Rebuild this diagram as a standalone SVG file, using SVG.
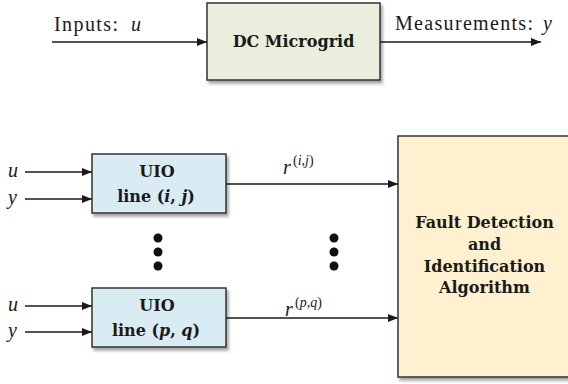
<svg xmlns="http://www.w3.org/2000/svg" width="568" height="384" viewBox="0 0 568 384">
<defs>
<style>
.box{stroke:#333;stroke-width:1.5}
.lbl{font-family:"DejaVu Serif",serif;font-weight:bold;font-size:16px;fill:#1a1a1a;text-anchor:middle}
.txt{font-family:"Liberation Serif",serif;font-size:20px;fill:#1a1a1a}
.m{font-style:italic}
.sup{font-family:"Liberation Serif",serif;font-size:14px;fill:#1a1a1a}
.c{stroke:#1a1a1a;stroke-width:1.4;fill:none;marker-end:url(#ah)}
</style>
<marker id="ah" viewBox="0 0 10 8" refX="10" refY="4" markerWidth="10" markerHeight="8" markerUnits="userSpaceOnUse" orient="auto">
<path d="M0,0 L10,4 L0,8 z" fill="#1a1a1a"/>
</marker>
<filter id="sh" x="-10%" y="-10%" width="130%" height="130%">
<feDropShadow dx="2" dy="3" stdDeviation="1.5" flood-color="#000" flood-opacity="0.35"/>
</filter>
</defs>
<rect width="568" height="384" fill="#fff"/>
<g id="connectors">
<path class="c" d="M52,42 H207"/>
<path class="c" d="M380,42 H541"/>
<path class="c" d="M25,172 H92"/>
<path class="c" d="M25,199 H92"/>
<path class="c" d="M25,306 H92"/>
<path class="c" d="M25,332 H92"/>
<path class="c" d="M226,184 H398"/>
<path class="c" d="M226,318 H398"/>
</g>
<g id="labels">
<text class="txt" x="54" y="31" textLength="64" lengthAdjust="spacing">Inputs:</text>
<text class="txt m" x="131" y="31">u</text>
<text class="txt" x="395" y="30" textLength="138" lengthAdjust="spacing">Measurements:</text>
<text class="txt m" x="543" y="30">y</text>
<text class="txt m" x="8" y="177">u</text>
<text class="txt m" x="8" y="204">y</text>
<text class="txt m" x="8" y="311">u</text>
<text class="txt m" x="8" y="337">y</text>
<text class="txt m" x="283" y="174">r</text>
<text class="sup" x="293" y="165">(<tspan font-style="italic">i</tspan>,<tspan font-style="italic">j</tspan>)</text>
<text class="txt m" x="285" y="316">r</text>
<text class="sup" x="295" y="307">(<tspan font-style="italic">p</tspan>,<tspan font-style="italic">q</tspan>)</text>
</g>
<g id="dc-microgrid">
<rect class="box" x="207" y="3" width="173" height="77" fill="#e9efdc" filter="url(#sh)"/>
<text class="lbl" x="293.5" y="47">DC Microgrid</text>
</g>
<g id="uio-ij">
<rect class="box" x="92" y="154" width="134" height="59" fill="#d9ecf3" filter="url(#sh)"/>
<text class="lbl" x="157" y="177">UIO</text>
<text class="lbl" x="156" y="202">line (<tspan font-style="italic">i</tspan>, <tspan font-style="italic">j</tspan>)</text>
</g>
<g id="dots">
<circle cx="158" cy="238" r="4.5" fill="#111"/>
<circle cx="158" cy="252" r="4.5" fill="#111"/>
<circle cx="158" cy="266" r="4.5" fill="#111"/>
<circle cx="334" cy="238" r="4.5" fill="#111"/>
<circle cx="334" cy="252" r="4.5" fill="#111"/>
<circle cx="334" cy="266" r="4.5" fill="#111"/>
</g>
<g id="uio-pq">
<rect class="box" x="92" y="288" width="134" height="59" fill="#d9ecf3" filter="url(#sh)"/>
<text class="lbl" x="157" y="311">UIO</text>
<text class="lbl" x="156" y="336">line (<tspan font-style="italic">p</tspan>, <tspan font-style="italic">q</tspan>)</text>
</g>
<g id="fdi">
<rect class="box" x="398" y="136" width="180" height="241" fill="#fff0cf" filter="url(#sh)"/>
<text class="lbl" x="484.5" y="228">Fault Detection</text>
<text class="lbl" x="484.5" y="250">and</text>
<text class="lbl" x="484.5" y="272">Identification</text>
<text class="lbl" x="484.5" y="293">Algorithm</text>
</g>
</svg>
